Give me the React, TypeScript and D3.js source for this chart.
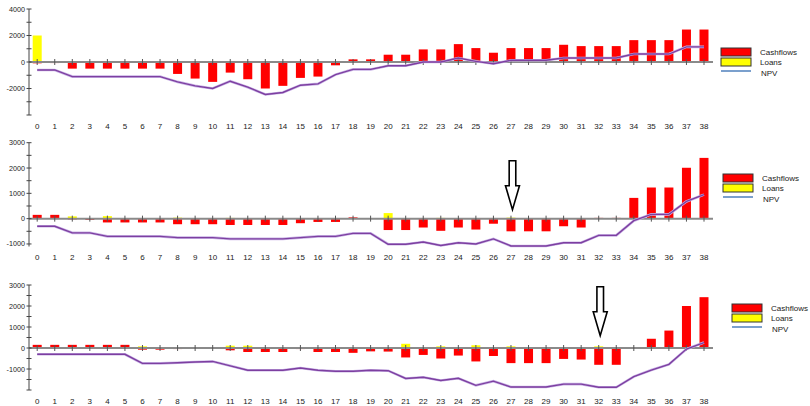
import React from 'react'
import * as d3 from 'd3'

// period labels 0..38
const periods: number[] = d3.range(0, 39)

// scenario 1
const cash1 = [-100, -80, -500, -500, -500, -500, -500, -500, -900, -1250, -1500, -800, -1300, -2000, -1800, -1200, -1100, -250, 200, 200,
  550, 550, 950, 950, 1350, 1050, 700, 1050, 1050, 1050, 1300, 1200, 1200, 1200, 1650, 1650, 1650, 2450, 2450]
const loans1 = [2000, 0, 0, 0, 0, 0, 0, 0, 0, 0, 0, 0, 0, 0, 0, 0, 0, 0, 0, 0,
  0, 0, 0, 0, 0, 0, 0, 0, 0, 0, 0, 0, 0, 0, 0, 0, 0, 0, 0]
const npv1 = [-600, -600, -1100, -1100, -1100, -1100, -1100, -1100, -1500, -1800, -2000, -1450, -1900, -2450, -2300, -1750, -1650, -950, -560, -560,
  -280, -280, 0, 0, 300, 50, -130, 130, 130, 130, 300, 300, 300, 300, 600, 600, 600, 1140, 1140]

// scenario 2
const cash2 = [150, 150, -30, -50, -150, -150, -150, -150, -220, -220, -220, -250, -250, -250, -250, -180, -130, -130, 50, 0,
  -450, -450, -350, -480, -350, -430, -200, -500, -500, -500, -300, -350, 30, 30, 820, 1230, 1230, 2010, 2400]
const loans2 = [0, 0, 90, 0, 100, 0, 0, 0, 40, 0, 0, 30, 0, 0, 0, 0, 0, 0, 0, 0,
  220, 20, 0, 30, 0, 0, 0, 40, 0, 0, 0, 0, 0, 0, 0, 0, 0, 0, 0]
const npv2 = [-300, -300, -560, -560, -700, -700, -700, -700, -750, -750, -750, -800, -800, -800, -800, -750, -700, -700, -580, -580,
  -1010, -1010, -920, -1060, -950, -1000, -800, -1080, -1080, -1080, -950, -950, -660, -660, -80, 170, 170, 680, 950]

// scenario 3
const cash3 = [150, 150, 150, 150, 150, 150, -80, -80, -50, -20, -20, -110, -190, -190, -190, -50, -190, -190, -230, -160,
  -170, -450, -330, -500, -360, -640, -380, -720, -720, -720, -520, -550, -800, -800, 0, 440, 830, 2000, 2420]
const loans3 = [0, 0, 0, 0, 0, 0, 80, 0, 0, 0, 0, 110, 110, 0, 0, 0, 0, 0, 0, 0,
  0, 200, 0, 80, 0, 130, 0, 80, 0, 0, 0, 0, 80, 0, 0, 0, 0, 0, 0]
const npv3 = [-300, -300, -300, -300, -300, -300, -730, -730, -700, -670, -640, -850, -1060, -1060, -1060, -950, -1060, -1110, -1110, -1060,
  -1080, -1450, -1390, -1550, -1440, -1780, -1580, -1860, -1860, -1860, -1720, -1720, -1870, -1870, -1360, -1050, -780, -50, 260]

const legendLabels = ['Cashflows', 'Loans', 'NPV']

interface PanelDef {
  cash: number[]
  loans: number[]
  npv: number[]
  domain: [number, number]
  range: [number, number]
  labelTicks: number[]
  minorStep: number
  legendX: number
  legendY: number
  arrowAt: number | null
  arrowTop: number
}

const panels: PanelDef[] = [
  { cash: cash1, loans: loans1, npv: npv1, domain: [-4000, 4000], range: [115, 9], labelTicks: [-2000, 0, 2000, 4000], minorStep: 1000, legendX: 721, legendY: 48, arrowAt: null, arrowTop: 0 },
  { cash: cash2, loans: loans2, npv: npv2, domain: [-1100, 3000], range: [246.5, 142.7], labelTicks: [-1000, 0, 1000, 2000, 3000], minorStep: 500, legendX: 723, legendY: 174, arrowAt: 27, arrowTop: 160.7 },
  { cash: cash3, loans: loans3, npv: npv3, domain: [-2000, 3000], range: [390, 285], labelTicks: [-1000, 0, 1000, 2000, 3000], minorStep: 500, legendX: 732, legendY: 304, arrowAt: 32, arrowTop: 286.7 },
]

const x = d3.scaleLinear().domain([0, 38]).range([37.2, 704])
const barW = 9
const font = "Arial, 'Liberation Sans', sans-serif"

function Panel({ p }: { p: PanelDef }) {
  const y = d3.scaleLinear().domain(p.domain).range(p.range)
  const y0 = y(0)
  const minor = d3.range(Math.ceil(p.domain[0] / p.minorStep) * p.minorStep, p.domain[1] + 1, p.minorStep)
  const line = d3.line<number>().x((_, i) => x(i)).y(d => y(d))
  const bar = (v: number) => ({ y: Math.min(y(v), y0), h: Math.abs(y(v) - y0) })

  let arrow = null
  if (p.arrowAt !== null) {
    const cx = x(p.arrowAt) + 1.5
    const t = p.arrowTop
    const path = `M${cx - 3.3},${t} L${cx + 3.3},${t} L${cx + 3.3},${t + 25} L${cx + 7},${t + 25} L${cx},${t + 49} L${cx - 7},${t + 25} L${cx - 3.3},${t + 25} Z`
    arrow = <path d={path} fill="#fff" stroke="#000" strokeWidth={1.6} strokeLinejoin="miter" />
  }

  return (
    <g>
      {/* bars */}
      {p.loans.map((v, i) => {
        if (v === 0) return null
        const b = bar(v)
        return <rect key={'l' + i} x={x(i) - barW / 2} y={b.y} width={barW} height={b.h} fill="#ffff00" />
      })}
      {p.cash.map((v, i) => {
        if (v === 0) return null
        const b = bar(v)
        return <rect key={'c' + i} x={x(i) - barW / 2} y={b.y} width={barW} height={b.h} fill="#ff0000" />
      })}
      {/* zero line */}
      <line x1={29} x2={713} y1={y0} y2={y0} stroke="#8a8a8a" strokeWidth={2} />
      {periods.map(i => (
        <line key={'xt' + i} x1={x(i)} x2={x(i)} y1={y0 - 3} y2={y0 + 3} stroke="#555" strokeWidth={1} />
      ))}
      {/* npv */}
      <path d={line(p.npv) || ''} fill="none" stroke="#c9b3e6" strokeWidth={2.6} />
      <path d={line(p.npv) || ''} fill="none" stroke="#7d3fa0" strokeWidth={1.4} />
      {/* y axis */}
      <line x1={29} x2={29} y1={y(p.domain[0])} y2={y(p.domain[1])} stroke="#444" strokeWidth={1} />
      {minor.map(v => (
        <line key={'yt' + v} x1={26.5} x2={31.5} y1={y(v)} y2={y(v)} stroke="#444" strokeWidth={1} />
      ))}
      {p.labelTicks.map(v => (
        <text key={'yl' + v} x={25} y={y(v) + 2.5} textAnchor="end" fontSize={7.2} fontFamily={font} fill="#222">{v}</text>
      ))}
      {/* x labels */}
      {periods.map(i => (
        <text key={'xl' + i} x={x(i)} y={y(p.domain[0]) + 13.5} textAnchor="middle" fontSize={8} fontFamily={font} fill="#222">{i}</text>
      ))}
      {/* legend */}
      <rect x={p.legendX} y={p.legendY} width={30} height={8} fill="#ff0000" stroke="#333" strokeWidth={1} />
      <rect x={p.legendX} y={p.legendY + 10} width={30} height={8} fill="#ffff00" stroke="#333" strokeWidth={1} />
      <line x1={p.legendX} x2={p.legendX + 30} y1={p.legendY + 23} y2={p.legendY + 23} stroke="#4f81bd" strokeWidth={1.5} />
      {legendLabels.map((t, k) => (
        <text key={t} x={p.legendX + 39 + (k === 2 ? 1 : 0)} y={p.legendY + 7 + k * 9.5 + (k === 2 ? 2 : 0)} fontSize={8} fontFamily={font} fill="#222">{t}</text>
      ))}
      {arrow}
    </g>
  )
}

export default function App() {
  return (
    <svg width={810} height={406} style={{ position: 'absolute', left: 0, top: 0, background: '#fff' }}>
      <rect width={810} height={406} fill="#fff" />
      {panels.map((p, k) => <Panel key={k} p={p} />)}
    </svg>
  )
}
